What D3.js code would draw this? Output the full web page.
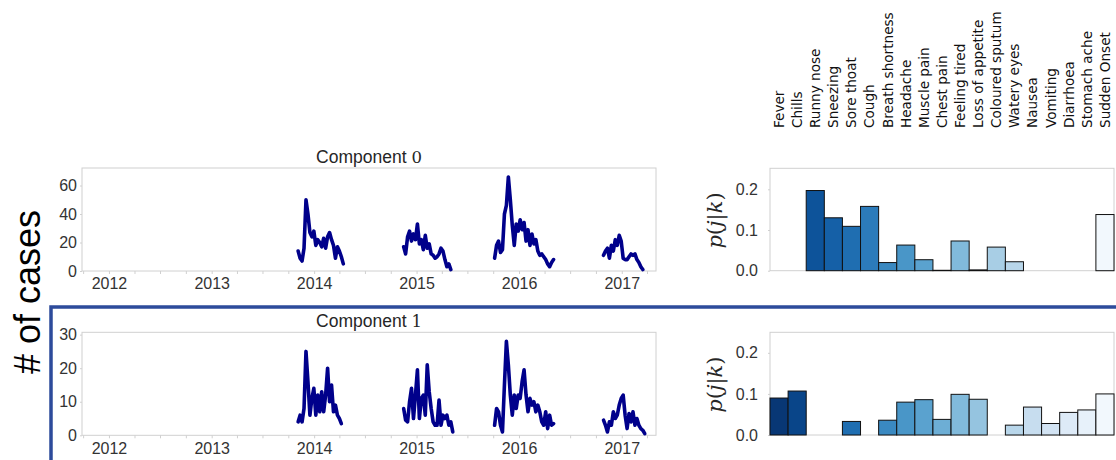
<!DOCTYPE html>
<html>
<head>
<meta charset="utf-8">
<script src="https://cdn.jsdelivr.net/npm/d3@7"></script>
<style>
  body { margin: 0; background: #fff; }
  text { font-family: "Liberation Sans", Arial, sans-serif; }
</style>
</head>
<body>
<svg id="chart" width="1116" height="460"></svg>
<script>
// symptom profile of each component
var symptoms = ["Fever", "Chills", "Runny nose", "Sneezing", "Sore thoat", "Cough",
  "Breath shortness", "Headache", "Muscle pain", "Chest pain", "Feeling tired",
  "Loss of appetite", "Coloured sputum", "Watery eyes", "Nausea", "Vomiting",
  "Diarrhoea", "Stomach ache", "Sudden Onset"];
var probComp0 = [0, 0, 0.197, 0.130, 0.109, 0.158, 0.020, 0.063, 0.027, 0.001, 0.073,
  0.002, 0.058, 0.022, 0, 0, 0, 0, 0.138];
var probComp1 = [0.090, 0.107, 0, 0, 0.033, 0, 0.036, 0.080, 0.086, 0.038, 0.099,
  0.087, 0, 0.024, 0.068, 0.028, 0.055, 0.061, 0.100];

// weekly case counts, one array per flu season
var seasonStarts = ["2013-11-05", "2014-11-16", "2015-10-06", "2016-10-28"];
var yearTicks = ["2012", "2013", "2014", "2015", "2016", "2017"];

var comp0Season2014 = [14, 9, 7, 16, 50, 40, 27, 24, 28, 18, 22, 20, 17, 23, 16, 24, 27, 22, 18, 9, 17, 14, 10, 5];
var comp0Season2015 = [17, 12, 24, 28, 21, 26, 22, 33, 19, 22, 15, 25, 16, 19, 12, 11, 9, 10, 12, 16, 14, 8, 3, 5, 1];
var comp0Season2016 = [9, 18, 21, 13, 15, 40, 46, 66, 50, 32, 18, 33, 28, 36, 29, 34, 21, 29, 18, 26, 19, 22, 14, 11, 12, 10, 8, 5, 3, 6, 8];
var comp0Season2017 = [11, 14, 16, 9, 18, 14, 22, 18, 25, 21, 9, 8, 8, 10, 12, 11, 12, 8, 6, 3, 1];

var comp1Season2014 = [4, 6, 4, 8, 25, 16, 6, 11, 14, 6, 12, 7, 13, 7, 12, 20, 10, 15, 7, 9, 6, 5, 3.5];
var comp1Season2015 = [8, 4.5, 4, 10, 14, 5, 12, 19.5, 5, 11, 12, 6, 21, 13, 8, 4, 3, 3, 10.5, 3, 6, 5, 6, 3, 4, 1];
var comp1Season2016 = [3, 8, 7, 3, 1, 15, 28, 21, 12, 6, 12, 8, 12, 11, 16, 19.5, 12, 7, 11, 9, 10, 7, 9, 7, 4, 3, 7, 2, 6, 3, 3.5];
var comp1Season2017 = [4.5, 3, 1, 4, 3, 7, 5, 6, 9, 11, 12, 6, 2, 6.5, 4, 7, 3, 5, 3, 2, 1.5, 0.5];

var svg = d3.select("#chart");
var parse = d3.timeParse("%Y-%m-%d");

var frameColor = "#d0d0d0";
var tickColor = "#333";

var x = d3.scaleTime()
  .domain([parse("2011-09-27"), parse("2017-05-03")])
  .range([82, 656]);

function seasonPoints(start, values) {
  var t0 = parse(start);
  return values.map(function(v, i) {
    return {date: d3.timeDay.offset(t0, 7 * i), value: v};
  });
}

function styleTicks(a) {
  a.select(".domain").remove();
  a.selectAll("line").attr("stroke", frameColor);
  a.selectAll("text").attr("fill", tickColor)
    .style("font-size", "16px").style("font-family", "Liberation Sans, Arial, sans-serif");
}

function drawCases(top, bottom, ymax, yticks, compNo, seasons) {
  var y = d3.scaleLinear().domain([0, ymax]).range([bottom, top]);
  var g = svg.append("g");

  g.append("rect")
    .attr("x", 82).attr("y", top)
    .attr("width", 656 - 82).attr("height", bottom - top)
    .attr("fill", "none").attr("stroke", frameColor).attr("stroke-width", 1);

  // quarter ticks
  g.append("g")
    .attr("transform", "translate(0," + bottom + ")")
    .call(d3.axisBottom(x).ticks(d3.timeMonth.every(3)).tickSize(3).tickFormat(""))
    .call(styleTicks);

  g.append("g")
    .attr("transform", "translate(0," + bottom + ")")
    .call(d3.axisBottom(x)
      .tickValues(yearTicks.map(function(t) { return parse(t + "-01-01"); }))
      .tickFormat(d3.timeFormat("%Y"))
      .tickSize(0).tickPadding(7))
    .call(styleTicks);

  g.append("g")
    .attr("transform", "translate(82,0)")
    .call(d3.axisLeft(y).tickValues(yticks).tickSize(2).tickPadding(3))
    .call(styleTicks);

  var line = d3.line()
    .x(function(d) { return x(d.date); })
    .y(function(d) { return y(d.value); });

  seasons.forEach(function(vals, i) {
    g.append("path")
      .datum(seasonPoints(seasonStarts[i], vals))
      .attr("d", line)
      .attr("fill", "none")
      .attr("stroke", "#00008b")
      .attr("stroke-width", 3.6)
      .attr("stroke-linejoin", "round")
      .attr("stroke-linecap", "round");
  });

  var title = g.append("text")
    .attr("x", 369).attr("y", top - 5)
    .attr("text-anchor", "middle")
    .attr("fill", "#262626")
    .style("font-size", "17.5px")
    .text("Component ");
  title.append("tspan")
    .style("font-family", "DejaVu Serif, serif")
    .style("font-size", "16.5px")
    .text(compNo);
}

var xb = d3.scaleBand().domain(symptoms).range([770, 1114]).padding(0);

function drawProbs(top, bottom, ymax, probs) {
  var y = d3.scaleLinear().domain([0, ymax]).range([bottom, top]);
  var g = svg.append("g");

  g.append("rect")
    .attr("x", 770).attr("y", top)
    .attr("width", 1114 - 770).attr("height", bottom - top)
    .attr("fill", "none").attr("stroke", frameColor).attr("stroke-width", 1);

  g.append("g")
    .attr("transform", "translate(770,0)")
    .call(d3.axisLeft(y).tickValues([0, 0.1, 0.2]).tickFormat(d3.format(".1f")).tickSize(2).tickPadding(10))
    .call(styleTicks);

  g.selectAll("rect.bar")
    .data(symptoms.map(function(s, i) { return {name: s, i: i, p: probs[i]}; })
      .filter(function(d) { return d.p > 0; }))
    .enter().append("rect")
    .attr("class", "bar")
    .attr("x", function(d) { return xb(d.name); })
    .attr("width", xb.bandwidth())
    .attr("y", function(d) { return y(d.p); })
    .attr("height", function(d) { return y(0) - y(d.p); })
    .attr("fill", function(d) { return d3.interpolateBlues(1 - (d.i + 0.5) / 19); })
    .attr("stroke", "#111")
    .attr("stroke-width", 1);

  var lab = g.append("text")
    .attr("transform", "translate(722," + ((top + bottom) / 2 + 1) + ") rotate(-90)")
    .attr("text-anchor", "middle")
    .attr("fill", "#262626")
    .style("font-family", "DejaVu Serif, serif")
    .style("font-size", "21px");
  lab.append("tspan").style("font-style", "italic").text("p");
  lab.append("tspan").text("(");
  lab.append("tspan").style("font-style", "italic").text("j");
  lab.append("tspan").text("|");
  lab.append("tspan").style("font-style", "italic").text("k");
  lab.append("tspan").text(")");
}

// symptom names above the bar charts
svg.append("g").selectAll("text")
  .data(symptoms)
  .enter().append("text")
  .attr("transform", function(d) {
    return "translate(" + (xb(d) + xb.bandwidth() / 2) + ",128) rotate(-90)";
  })
  .attr("dy", "0.36em")
  .attr("fill", "#111")
  .style("font-family", "DejaVu Sans, sans-serif")
  .style("font-size", "13.6px")
  .text(function(d) { return d; });

drawCases(168, 271, 72.3, [0, 20, 40, 60], "0",
  [comp0Season2014, comp0Season2015, comp0Season2016, comp0Season2017]);
drawCases(332.3, 435.3, 30.7, [0, 10, 20, 30], "1",
  [comp1Season2014, comp1Season2015, comp1Season2016, comp1Season2017]);

drawProbs(168.3, 270.7, 0.2516, probComp0);
drawProbs(332.3, 435, 0.25, probComp1);

// highlight frame round component 1
svg.append("path")
  .attr("d", "M51,462V307H1118")
  .attr("fill", "none")
  .attr("stroke", "#2d4b9b")
  .attr("stroke-width", 3.5);

svg.append("text")
  .attr("transform", "translate(40,292) rotate(-90)")
  .attr("text-anchor", "middle")
  .attr("fill", "#000")
  .style("font-size", "36px")
  .text("# of cases");
</script>
</body>
</html>
